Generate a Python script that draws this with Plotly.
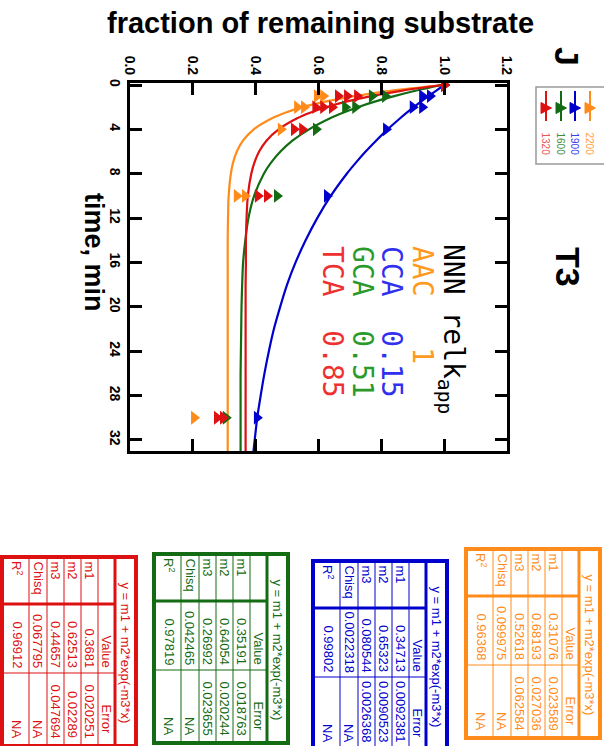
import plotly.graph_objects as go

# ---------------- data ----------------
legend_labels = ["1320", "1600", "1900", "2200"]
legend_colors = ["#dd1111", "#136b13", "#0000cc", "#ff8c1a"]
legend_text_colors = ["#e85555", "#3f8a3f", "#3a3aee", "#ffa040"]

substrates = ["AAC", "CCA", "GCA", "TCA"]
rel_kapp = ["1", "0.15", "0.51", "0.85"]
line_colors = ["#ff8c1a", "#0000cc", "#136b13", "#dd1111"]
label_colors = ["#ff9a1f", "#3030ee", "#2a9a2a", "#ee3030"]

# observed fractions (replicates) vs time, min
aac_t = [0, 1, 1, 2, 2, 4, 10, 10, 30]
aac_f = [1.0, 0.595, 0.615, 0.532, 0.554, 0.48, 0.34, 0.366, 0.204]
cca_t = [0, 1, 1, 2, 2, 4, 10, 30]
cca_f = [1.0, 0.93, 0.955, 0.90, 0.93, 0.815, 0.627, 0.404]
gca_t = [0, 1, 1, 2, 2, 4, 10, 30]
gca_f = [1.0, 0.77, 0.812, 0.685, 0.717, 0.592, 0.468, 0.305]
tca_t = [0, 1, 1, 1, 2, 2, 2, 4, 4, 10, 10, 30, 30]
tca_f = [1.0, 0.662, 0.691, 0.723, 0.59, 0.615, 0.643, 0.522, 0.548, 0.407, 0.436, 0.277, 0.296]

# fitted curves
fit_t = [0, 0.5, 1, 1.5, 2, 2.5, 3, 4, 5, 6, 7, 8, 10, 12, 14, 16, 18, 20, 22, 24, 26, 28, 30, 32, 33]
aac_fit = [0.993, 0.835, 0.714, 0.621, 0.549, 0.494, 0.452, 0.394, 0.360, 0.340, 0.328, 0.321, 0.314,
           0.312, 0.311, 0.311, 0.311, 0.311, 0.311, 0.311, 0.311, 0.311, 0.311, 0.311, 0.311]
cca_fit = [1.000, 0.975, 0.950, 0.926, 0.903, 0.881, 0.860, 0.820, 0.784, 0.750, 0.719, 0.690, 0.639,
           0.596, 0.559, 0.527, 0.500, 0.478, 0.458, 0.442, 0.428, 0.416, 0.405, 0.397, 0.393]
gca_fit = [0.992, 0.912, 0.841, 0.779, 0.725, 0.678, 0.637, 0.570, 0.518, 0.479, 0.449, 0.426, 0.395,
           0.377, 0.367, 0.360, 0.357, 0.355, 0.354, 0.353, 0.352, 0.352, 0.352, 0.352, 0.352]
tca_fit = [0.993, 0.868, 0.768, 0.688, 0.624, 0.573, 0.532, 0.473, 0.435, 0.411, 0.396, 0.386, 0.375,
           0.371, 0.369, 0.369, 0.368, 0.368, 0.368, 0.368, 0.368, 0.368, 0.368, 0.368, 0.368]

x_ticks = [0.0, 0.2, 0.4, 0.6, 0.8, 1.0, 1.2]
x_ticktext = ["0.0", "0.2", "0.4", "0.6", "0.8", "1.0", "1.2"]
y_ticks = [0, 4, 8, 12, 16, 20, 24, 28, 32]

# fit tables: rows m1, m2, m3, Chisq, R^2
table_formula = "y = m1 + m2*exp(-m3*x)"
table_row_labels = ["m1", "m2", "m3", "Chisq", "R<sup>2</sup>"]
tca_values = ["0.3681", "0.62513", "0.44657", "0.067795", "0.96912"]
tca_errors = ["0.020251", "0.02289", "0.047694", "NA", "NA"]
gca_values = ["0.35191", "0.64054", "0.26992", "0.042465", "0.97819"]
gca_errors = ["0.018763", "0.020244", "0.023655", "NA", "NA"]
cca_values = ["0.34713", "0.65323", "0.080544", "0.0022318", "0.99802"]
cca_errors = ["0.0092381", "0.0090523", "0.0026368", "NA", "NA"]
aac_values = ["0.31076", "0.68193", "0.52618", "0.099975", "0.96368"]
aac_errors = ["0.023589", "0.027036", "0.062584", "NA", "NA"]

# ---------------- layout helpers (pixel -> paper) ----------------
FW, FH = 604, 746
PL, PR, PT, PB = 130, 507, 83, 451


def X(px):
    return px / FW


def Y(py):
    return 1 - py / FH


annotations = []
shapes = []


def ann(text, x, y, size, color, angle=90, xa="center", ya="middle", family="Liberation Sans, Arial", bold=False):
    annotations.append(dict(text=text, x=X(x), y=Y(y), xref="paper", yref="paper", showarrow=False,
                            textangle=angle, xanchor=xa, yanchor=ya, borderpad=0,
                            font=dict(family=family, size=size, color=color,
                                      weight="bold" if bold else "normal")))


def seg(x0, y0, x1, y1, color, width):
    shapes.append(dict(type="line", xref="paper", yref="paper", x0=X(x0), y0=Y(y0), x1=X(x1), y1=Y(y1),
                       line=dict(color=color, width=width)))


def rect(x0, y0, x1, y1, color, width):
    shapes.append(dict(type="rect", xref="paper", yref="paper", x0=X(x0), y0=Y(y0), x1=X(x1), y1=Y(y1),
                       line=dict(color=color, width=width), fillcolor="rgba(0,0,0,0)"))


def tri_right(cx, cy, s, color):
    p = "M {} {} L {} {} L {} {} Z".format(X(cx - s * 0.5), Y(cy - s * 0.55), X(cx - s * 0.5), Y(cy + s * 0.55),
                                           X(cx + s * 0.55), Y(cy))
    shapes.append(dict(type="path", xref="paper", yref="paper", path=p, fillcolor=color,
                       line=dict(color=color, width=1)))


def fit_table(x0, y0, color, values, errors):
    w, h = 134, 189
    xb = [0, 27, 45, 62, 79, 96, 113, w]
    rect(x0, y0, x0 + w, y0 + h, color, 4)
    seg(x0 + 113, y0, x0 + 113, y0 + h, color, 3)
    seg(x0, y0 + 47, x0 + 113, y0 + 47, color, 3)
    for b in xb[1:6]:
        seg(x0 + b, y0, x0 + b, y0 + h, color, 1)
    seg(x0, y0 + 116, x0 + 113, y0 + 116, color, 1)
    fs = 13
    ann(table_formula, x0 + 123.5, y0 + 96, fs, color)
    ann("Value", x0 + 104.5, y0 + 111, fs, color, ya="bottom")
    ann("Error", x0 + 104.5, y0 + 178, fs, color, ya="bottom")
    centers = [87.5, 70.5, 53.5, 36, 15]
    for lab, v, e, c in zip(table_row_labels, values, errors, centers):
        ann(lab, x0 + c, y0 + 3, fs, color, ya="top")
        ann(v, x0 + c, y0 + 112, fs, color, ya="bottom")
        ann(e, x0 + c, y0 + 182, fs, color, ya="bottom")


# ---------------- traces ----------------
fig = go.Figure()
fits = [aac_fit, cca_fit, gca_fit, tca_fit]
obs = [(aac_t, aac_f), (cca_t, cca_f), (gca_t, gca_f), (tca_t, tca_f)]
for i in range(4):
    fig.add_trace(go.Scatter(x=fits[i], y=fit_t, mode="lines", line=dict(color=line_colors[i], width=2.2,
                             shape="spline", smoothing=0.8), hoverinfo="skip", showlegend=False))
for i in range(4):
    t, f = obs[i]
    fig.add_trace(go.Scatter(x=f, y=t, mode="markers", showlegend=False,
                             marker=dict(symbol="triangle-right", size=12, color=line_colors[i],
                                         line=dict(width=0))))

# ---------------- decorations ----------------
ann("fraction of remaining substrate", 320, 23, 29, "black", angle=0, bold=True)
ann("time, min", 94, 252, 27, "black", bold=True)
ann("J", 567, 56, 34, "black", bold=True)
ann("T3", 568, 267, 34, "black", bold=True)

mono = "DejaVu Sans Mono, Liberation Mono, monospace"
ann("NNN relk<sub>app</sub>", 452, 243, 28, "black", ya="top", family=mono)
cols_x = [423, 392, 363, 333]
for i in range(4):
    pad = " " * (3 if len(rel_kapp[i]) == 1 else 2)
    ann(substrates[i] + pad + rel_kapp[i], cols_x[i], 245, 28, label_colors[i], ya="top", family=mono)

# legend (drawn by hand, rotated)
rect(536, 87, 612, 164, "#9a9a9a", 1.5)
leg_x = [546, 561, 575, 590]
for i in range(4):
    seg(leg_x[i], 91, leg_x[i], 121, legend_colors[i], 2)
    tri_right(leg_x[i], 108, 10, legend_colors[i])
    ann(legend_labels[i], leg_x[i] - 1, 131, 10, legend_text_colors[i], ya="top")

# fit tables
fit_table(2, 557, "#dd1111", tca_values, tca_errors)
fit_table(154, 554, "#136b13", gca_values, gca_errors)
fit_table(313, 561, "#0000cc", cca_values, cca_errors)
fit_table(466, 549, "#ff8c1a", aac_values, aac_errors)

axis_common = dict(ticks="inside", ticklen=12, tickwidth=3, tickcolor="black", showline=True, linewidth=3,
                   linecolor="black", mirror="allticks", showgrid=False, zeroline=False, tickangle=90,
                   tickfont=dict(family="Liberation Sans, Arial", size=14, color="black", weight="bold"),
                   automargin=False)

fig.update_layout(
    width=FW, height=FH,
    margin=dict(l=0, r=0, t=0, b=0),
    paper_bgcolor="white", plot_bgcolor="rgba(0,0,0,0)",
    showlegend=False,
    xaxis=dict(domain=[X(PL), X(PR)], range=[0, 1.2], side="top", tickmode="array", tickvals=x_ticks,
               ticktext=x_ticktext, **axis_common),
    yaxis=dict(domain=[Y(PB), Y(PT)], range=[33, -0.18], tickmode="array", tickvals=y_ticks, **axis_common),
    annotations=annotations,
    shapes=shapes,
)

fig.write_html("out.html", config={"displayModeBar": False},
               post_script="document.body.style.margin='0px';")
